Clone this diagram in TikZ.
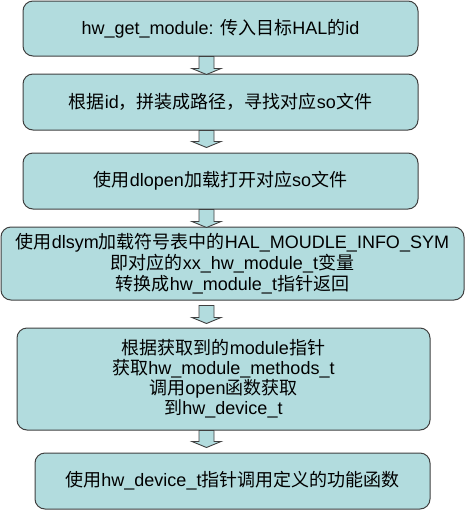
\documentclass[tikz,border=0pt]{standalone}
\usepackage{fontspec}
\setmainfont{Liberation Sans}
\newfontfamily\cjk{Noto Sans CJK SC}
\newcommand\zh[1]{{\cjk #1}}
\usetikzlibrary{calc}
\definecolor{boxfill}{RGB}{178,220,222}
\definecolor{boxline}{RGB}{64,64,64}
\tikzset{
  flowbox/.style={draw=boxline, fill=boxfill, line width=1pt, rounded corners=10pt,
    align=center, inner sep=0pt, font=\fontsize{18}{20.5}\selectfont},
  blockarr/.style={draw=boxline, fill=boxfill, line width=0.9pt, line join=miter}
}
% #1 start point, #2 total length in pt
\newcommand\blkarrow[2]{%
  \draw[blockarr] (#1) ++(-7.5pt,0) -- ++(0,{-(#2-6)*1pt}) -- ++(-7pt,0)
    -- ++(14.5pt,-6pt) -- ++(14.5pt,6pt) -- ++(-7pt,0) -- ++(0,{(#2-6)*1pt}) -- cycle;}
\begin{document}
\begin{tikzpicture}[x=1pt,y=-1pt]
\useasboundingbox (0,0) rectangle (466,512);
\coordinate (ax) at (206.5,0);
\node[flowbox, minimum width=395pt, minimum height=55pt] (b1) at (220.5,28.5)
  {hw\_get\_module: \zh{传入目标}HAL\zh{的}id};
\node[flowbox, minimum width=395pt, minimum height=56pt] (b2) at (220.5,102)
  {\zh{根据}id\zh{，拼装成路径，寻找对应}so\zh{文件}};
\node[flowbox, minimum width=395pt, minimum height=56pt] (b3) at (220.5,181)
  {\zh{使用}dlopen\zh{加载打开对应}so\zh{文件}};
\node[flowbox, minimum width=463pt, minimum height=73pt, font=\fontsize{18}{21}\selectfont] (b4) at (232.5,263.5)
  {\zh{使用}dlsym\zh{加载符号表中的}HAL\_MOUDLE\_INFO\_SYM\\
   \zh{即对应的}xx\_hw\_module\_t\zh{变量}\\
   \zh{转换成}hw\_module\_t\zh{指针返回}};
\node[flowbox, minimum width=413pt, minimum height=102pt, font=\fontsize{18}{20}\selectfont] (b5) at (223.5,379)
  {\zh{根据获取到的}module\zh{指针}\\
   \zh{获取}hw\_module\_methods\_t\\
   \zh{调用}open\zh{函数获取}\\
   \zh{到}hw\_device\_t};
\node[flowbox, minimum width=395pt, minimum height=56pt] (b6) at (232.5,481)
  {\zh{使用}hw\_device\_t\zh{指针调用定义的功能函数}};
\blkarrow{b1.south -| ax}{18}
\blkarrow{b2.south -| ax}{17}
\blkarrow{b3.south -| ax}{18}
\blkarrow{$(b4.south -| ax)+(0,5)$}{18}
\blkarrow{b5.south -| ax}{17}
\end{tikzpicture}
\end{document}
